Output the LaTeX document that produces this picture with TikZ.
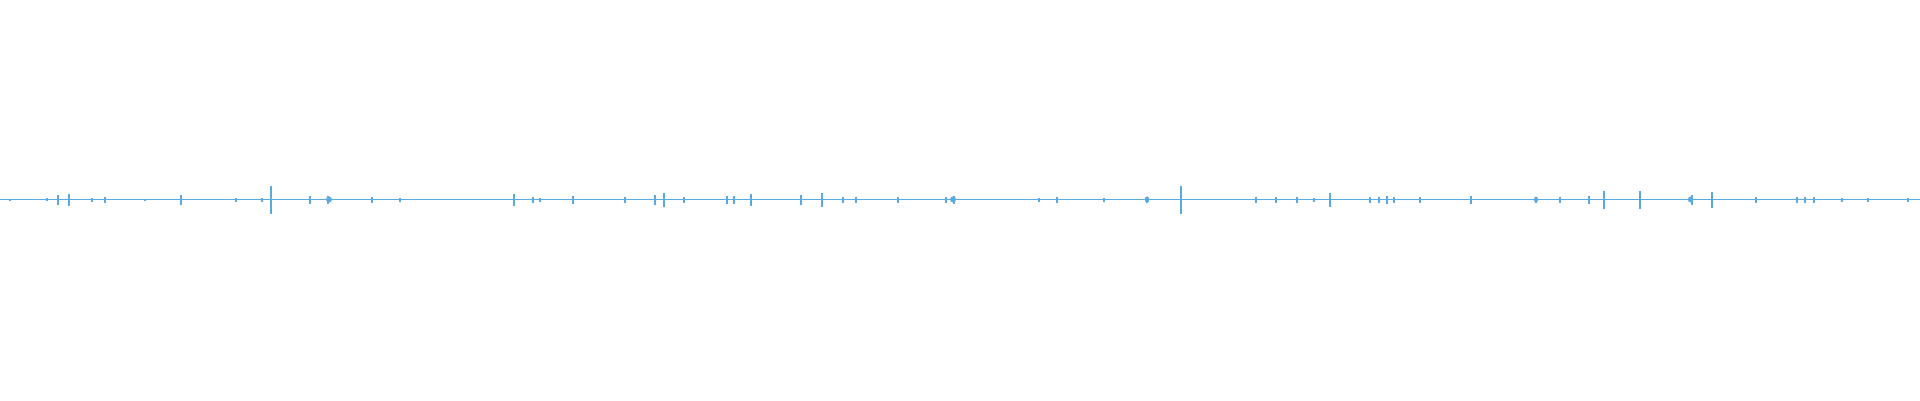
\documentclass[tikz,border=0pt]{standalone}
\definecolor{wave}{RGB}{90,170,225}
\begin{document}
\begin{tikzpicture}[x=1pt,y=-1pt,wv/.style={draw=wave,line width=1.1pt}]
\useasboundingbox (0,0) rectangle (1920,400);
\draw[wv] (0,199.5) -- (1920,199.5);
\foreach \x/\h in {10/1,47/1.5,58/5,69/6,92/2,105/3,145/1,181/5,236/2,262/2,271/14,310/4,328/4,372/3,400/2,
  514/6,533/3,540/2,573/4,625/3,655/5,664/7,684/3,727/4,734/4,751/6,801/5,822/7,843/3,856/3,898/3,946/3,
  954/4,1039/2,1057/3,1104/2,1147/3,1181/3,1148/2,1256/3,1297/3,1314/2,1370/3,1379/3,
  1181/14,1276/3,1297/3,1330/7,1387/4,1394/3,1420/3,1471/4,1536/3,1560/3,1589/4,1604/9,1640/9,1692/5,1712/8,
  1756/3,1797/3,1805/3,1814/3,1842/2,1868/2,1908/2}
  \draw[wv] (\x,199.5-\h) -- (\x,199.5+\h);
\foreach \x/\w in {329/3,953/3,1147/2,1536/2,1690/2,1147/2}
  \fill[wave] (\x,199.5) ellipse ({\w} and 3);
\end{tikzpicture}
\end{document}
